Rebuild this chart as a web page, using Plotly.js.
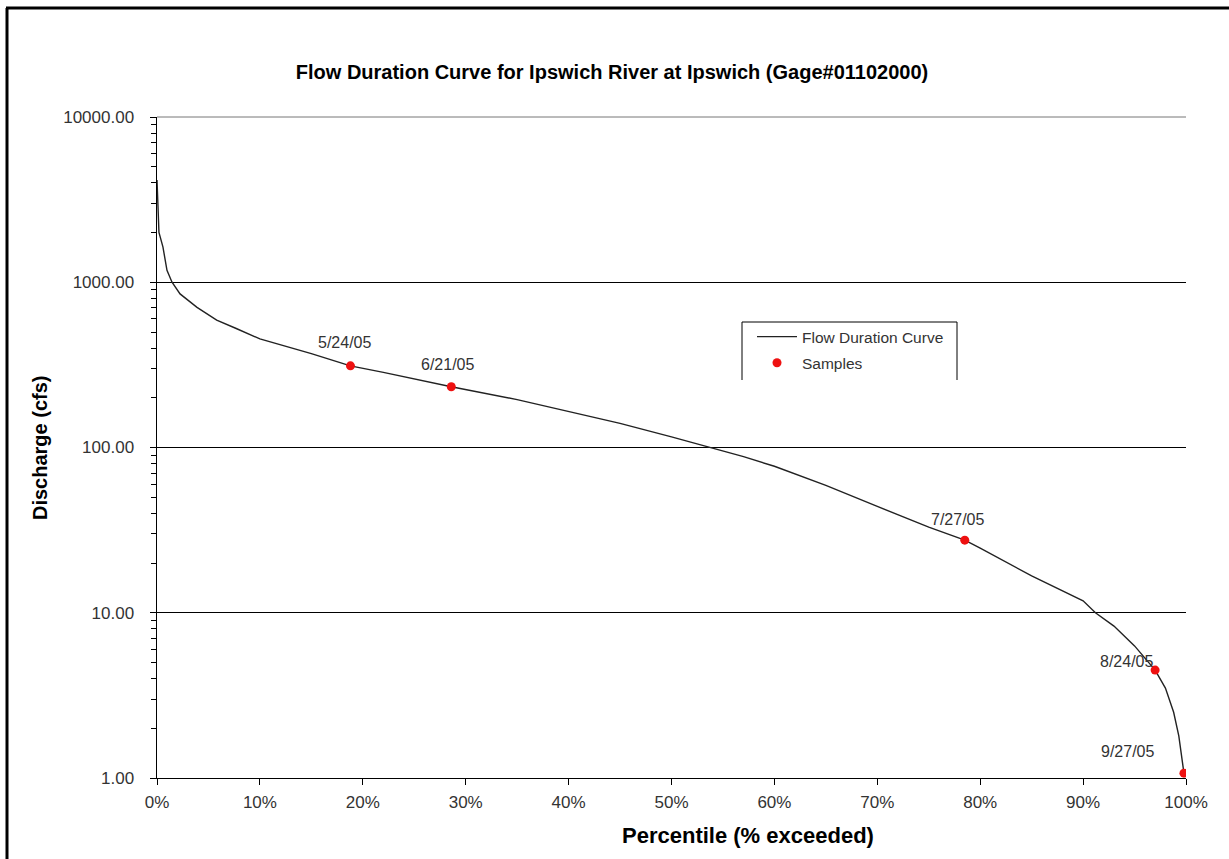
<!DOCTYPE html>
<html>
<head>
<meta charset="utf-8">
<script src="https://cdn.plot.ly/plotly-3.0.1.min.js"></script>
<style>
html,body{margin:0;padding:0;background:#fff;}
#chart{width:1229px;height:859px;}
</style>
</head>
<body>
<div id="chart"></div>
<script>
// Flow duration curve (percent exceeded vs discharge, cfs)
const curvePct  = [0, 0.19, 0.58, 0.97, 1.46, 2.24, 3.89, 5.8, 7.7, 10, 15, 18.8, 22, 28.6, 35, 40, 45, 50, 53.7, 57, 60, 65, 70, 75, 78.5, 80, 85, 88, 90, 91.2, 93, 95, 97, 98, 98.8, 99.3, 99.8];
const curveFlow = [4150, 2000, 1630, 1180, 1000, 850, 705, 590, 525, 454, 370, 312, 285, 233, 195, 165, 140, 116, 100, 88, 77, 59, 44, 33, 27.5, 24.6, 16.7, 13.5, 11.8, 10, 8.3, 6.3, 4.5, 3.5, 2.5, 1.8, 1.07];

// Sample dates
const sampleDates = ["5/24/05", "6/21/05", "7/27/05", "8/24/05", "9/27/05"];
const samplePct   = [18.8, 28.6, 78.5, 97.0, 99.8];
const sampleFlow  = [312, 233, 27.5, 4.5, 1.07];

const yTickVals = [1, 10, 100, 1000, 10000];
const yTickText = ["1.00", "10.00", "100.00", "1000.00", "10000.00"];
const xTickVals = [0, 10, 20, 30, 40, 50, 60, 70, 80, 90, 100];
const xTickText = xTickVals.map(v => v + "%");

// label offsets (pixels) relative to each sample point
const labelAx = [-6, -4, -7, -29, -56];
const labelAy = [-23, -22, -21, -9, -22];

const FONT = "Liberation Sans, Arial, sans-serif";

const L = 157, R = 43, T = 117, B = 81, W = 1229, H = 859;
const pw = W - L - R, ph = H - T - B;
const px = v => (v - L) / pw;
const py = v => (H - B - v) / ph;

const traces = [
  {
    x: curvePct, y: curveFlow, type: "scatter", mode: "lines",
    name: "Flow Duration Curve", legendgroup: "a",
    line: {color: "#222", width: 1.4},
    showlegend: true
  },
  {
    x: samplePct, y: sampleFlow, type: "scatter", mode: "markers",
    name: "Samples", legendgroup: "b",
    marker: {color: "#ee1111", size: 9},
    showlegend: true
  }
];

const annotations = sampleDates.map((d, i) => ({
  x: samplePct[i], y: Math.log10(sampleFlow[i]), xref: "x", yref: "y",
  text: d, showarrow: true, arrowcolor: "rgba(0,0,0,0)", ax: labelAx[i], ay: labelAy[i],
  font: {family: FONT, size: 16, color: "#333"}
}));

annotations.push({
  x: px(748), y: py(835), xref: "paper", yref: "paper", xanchor: "center", yanchor: "middle",
  text: "<b>Percentile (% exceeded)</b>",
  showarrow: false, font: {family: FONT, size: 22, color: "#000"}
});
annotations.push({
  x: px(40), y: py(448), xref: "paper", yref: "paper", xanchor: "center", yanchor: "middle",
  text: "<b>Discharge (cfs)</b>",
  showarrow: false, textangle: -90, font: {family: FONT, size: 20, color: "#000"}
});

const layout = {
  width: W, height: H,
  margin: {l: L, r: R, t: T, b: B, pad: 0},
  paper_bgcolor: "#fff", plot_bgcolor: "#fff",
  font: {family: FONT, size: 17, color: "#333"},
  title: {
    text: "<b>Flow Duration Curve for Ipswich River at Ipswich (Gage#01102000)</b>",
    x: px(612), xref: "paper", xanchor: "center",
    y: 1 - 72 / H, yanchor: "middle",
    font: {family: FONT, size: 20, color: "#000"}
  },
  xaxis: {
    range: [0, 100], tickvals: xTickVals, ticktext: xTickText,
    showgrid: false, zeroline: false,
    showline: true, linecolor: "#000", linewidth: 1,
    ticks: "outside", ticklen: 6, tickcolor: "#000",
    ticklabelstandoff: 3,
    tickfont: {family: FONT, size: 17, color: "#333"}
  },
  yaxis: {
    type: "log", range: [0, 4],
    tickvals: yTickVals, ticktext: yTickText,
    showgrid: true, gridcolor: "#000", gridwidth: 1,
    zeroline: false, showline: true, linecolor: "#000", linewidth: 1.5,
    ticks: "outside", ticklen: 6, tickcolor: "#000",
    ticklabelstandoff: 12,
    minor: {ticks: "outside", ticklen: 5, tickcolor: "#000", showgrid: false, dtick: "D1"},
    tickfont: {family: FONT, size: 17, color: "#333"}
  },
  showlegend: true,
  legend: {
    x: px(752), y: py(320), xanchor: "left", yanchor: "top",
    bgcolor: "rgba(0,0,0,0)", borderwidth: 0,
    font: {family: FONT, size: 15.5, color: "#333"},
    itemwidth: 40, tracegroupgap: 3
  },
  annotations: annotations,
  shapes: [
    // outer frame (left and top edges)
    {type: "line", xref: "paper", yref: "paper", x0: px(7), x1: px(7), y0: py(8), y1: py(H + 5), line: {color: "#000", width: 3}},
    {type: "line", xref: "paper", yref: "paper", x0: px(6), x1: px(W + 5), y0: py(8), y1: py(8), line: {color: "#000", width: 3}},
    // top border of plot area
    {type: "line", xref: "paper", yref: "paper", x0: 0, x1: 1, y0: 1, y1: 1, line: {color: "#777", width: 1}},
    // legend box (left, top, right edges)
    {type: "path", xref: "paper", yref: "paper",
     path: `M ${px(742)} ${py(380)} L ${px(742)} ${py(322)} L ${px(957)} ${py(322)} L ${px(957)} ${py(380)}`,
     line: {color: "#000", width: 1}}
  ]
};

Plotly.newPlot("chart", traces, layout, {staticPlot: true, displayModeBar: false});
</script>
</body>
</html>
